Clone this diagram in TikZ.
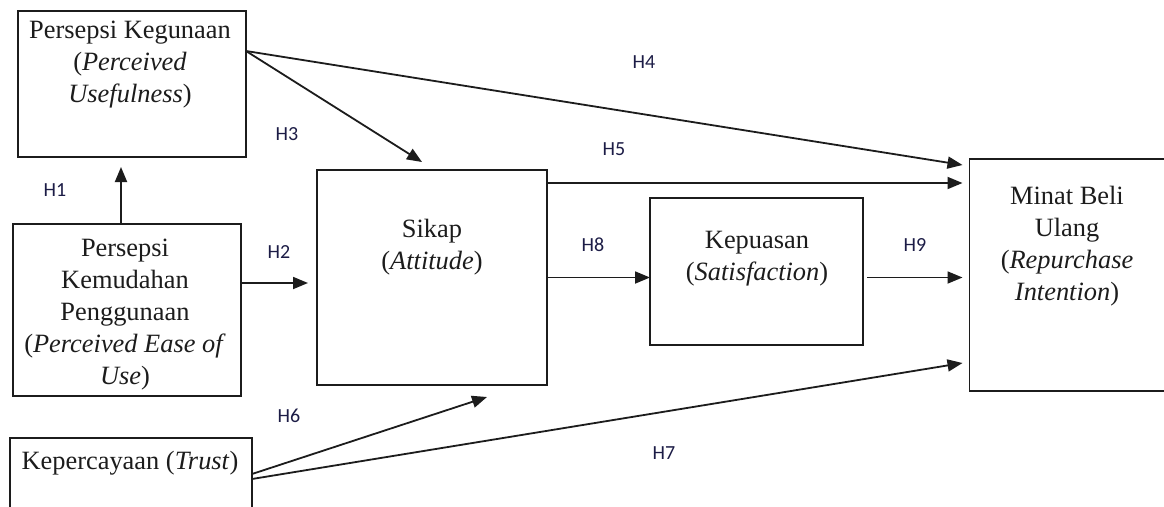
\documentclass[tikz,border=0pt]{standalone}
\usepackage{fontspec}
\setmainfont{Liberation Serif}
\newfontfamily\lblfont{Carlito}
\usetikzlibrary{arrows.meta,calc}
\definecolor{ink}{RGB}{28,28,28}
\definecolor{lbl}{RGB}{28,28,70}
\begin{document}
\begin{tikzpicture}[x=1pt,y=-1pt,
  box/.style={draw=ink,line width=1.8pt,inner sep=0pt,outer sep=0pt,rectangle},
  txt/.style={align=center,inner sep=0pt,anchor=north,text=ink,font=\fontsize{26.4}{32}\selectfont},
  hl/.style={font=\lblfont\fontsize{20}{22}\selectfont,text=lbl,inner sep=0pt},
  arr/.style={draw=ink,line width=1.8pt,-{Triangle[length=15pt,width=12pt]}}]
\useasboundingbox[fill=white] (0,0) rectangle (1164,506);

% boxes
\node[box,minimum width=228pt,minimum height=146pt] (pk) at (132,84) {};
\node[box,minimum width=228pt,minimum height=172pt] (pkp) at (127,310) {};
\node[box,minimum width=230pt,minimum height=215pt] (sik) at (432,277.5) {};
\node[box,minimum width=213pt,minimum height=147pt] (kpu) at (756.5,271.5) {};
\node[box,minimum width=196pt,minimum height=232pt] (min) at (1067.5,275) {};
\node[box,minimum width=242pt,minimum height=74pt] (kep) at (131,475) {};

% texts
\node[txt] (pkt) at (130,21) {Persepsi Kegunaan\\(\textit{Perceived}\\\textit{Usefulness})};
\node[txt] (pkpt) at (125,239) {Persepsi\\Kemudahan\\Penggunaan\\(\textit{Perceived Ease of}\\\textit{Use})};
\node[txt] (sikt) at (432,219) {Sikap\\(\textit{Attitude})};
\node[txt] (kput) at (757,231) {Kepuasan\\(\textit{Satisfaction})};
\node[txt] (mint) at (1067,186) {Minat Beli\\Ulang\\(\textit{Repurchase}\\\textit{Intention})};
\node[txt] (kept) at (130,451) {Kepercayaan (\textit{Trust})};

% helper coordinates
\coordinate (pko) at ([yshift=33pt]pk.east);
\coordinate (h2s) at ([yshift=27pt]pkp.east);
\coordinate (h5s) at ([yshift=-13pt]sik.north east);
\coordinate (h9a) at (kpu.east |- sik.east);

% connectors
\draw[arr] ([xshift=-6pt]pkp.north) -- ([xshift=-11pt,yshift=-10pt]pk.south);
\draw[arr,shorten >=9pt] (h2s) -- (h2s -| sik.west);
\draw[arr] (pko) -- ([xshift=-10pt,yshift=8pt]sik.north);
\draw[arr] (pko) -- ([xshift=-7pt,yshift=-6pt]min.north west);
\draw[arr,shorten >=7pt] (h5s) -- (h5s -| min.west);
\draw[arr] (sik.east) -- (sik.east -| kpu.west);
\draw[arr,shorten <=4pt,shorten >=7pt] (h9a) -- (h9a -| min.west);
\draw[arr] ([yshift=1pt]kep.east) -- ([xshift=55pt,yshift=-12pt]sik.south);
\draw[arr] ([yshift=-4pt]kep.east) -- ([xshift=-7pt,yshift=28pt]min.south west);

% labels
\node[hl] (l1) at (55,190) {H1};
\node[hl] (l2) at (279,252) {H2};
\node[hl] (l3) at (287,134) {H3};
\node[hl] (l4) at (644,62) {H4};
\node[hl] (l5) at (614,149) {H5};
\node[hl] (l6) at (289,416) {H6};
\node[hl] (l7) at (664,453) {H7};
\node[hl] (l8) at (593,245) {H8};
\node[hl] (l9) at (915,245) {H9};
\end{tikzpicture}
\end{document}
